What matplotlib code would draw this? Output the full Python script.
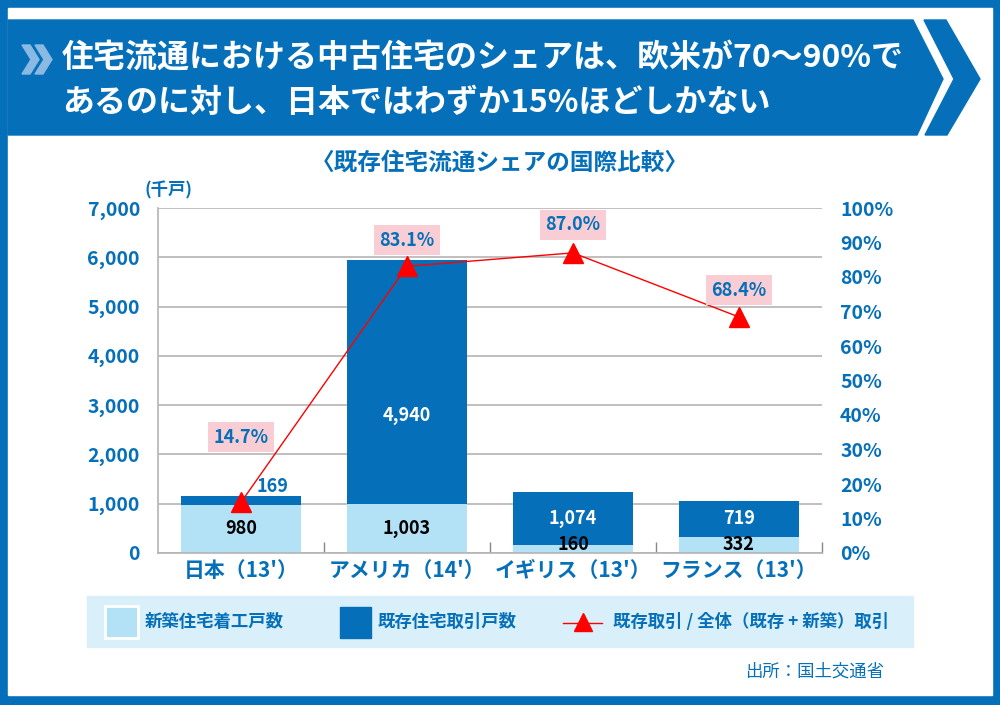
import matplotlib.pyplot as plt
from matplotlib.patches import Rectangle, Polygon
import numpy as np

plt.rcParams['font.family'] = ['Noto Sans CJK JP', 'DejaVu Sans']

# data (千戸 / %)
countries = ["日本（13'）", "アメリカ（14'）", "イギリス（13'）", "フランス（13'）"]
new_starts = [980, 1003, 160, 332]         # 新築住宅着工戸数
existing_sales = [169, 4940, 1074, 719]    # 既存住宅取引戸数
existing_share = [14.7, 83.1, 87.0, 68.4]  # 既存取引 / 全体取引
left_ticks = [0, 1000, 2000, 3000, 4000, 5000, 6000, 7000]
right_ticks = [0, 10, 20, 30, 40, 50, 60, 70, 80, 90, 100]

BLUE = '#0570b9'
LIGHT = '#b3e1f6'
GRID = '#b4b4b4'
RED = '#ff0000'
PINK = '#f8cdd3'

fig = plt.figure(figsize=(10, 7.05), dpi=100)

# background layer in pixel coordinates
bg = fig.add_axes([0, 0, 1, 1])
bg.set_xlim(0, 1000)
bg.set_ylim(705, 0)
bg.axis('off')

bg.add_patch(Rectangle((0, 0), 1000, 705, color=BLUE))
bg.add_patch(Rectangle((8, 8), 984, 687, color='white'))
bg.add_patch(Polygon([(8, 20), (913, 20), (943, 79), (917, 135), (8, 135)], color=BLUE))
bg.add_patch(Polygon([(924, 20), (946, 20), (980, 79), (947, 135), (925, 135), (954, 79)], color=BLUE))
for x0 in (22, 35):
    bg.add_patch(Polygon([(x0, 45), (x0 + 8, 45), (x0 + 17, 59.5), (x0 + 8, 74), (x0, 74), (x0 + 9, 59.5)],
                         color='#8ab9e2'))

bg.text(62, 58, '住宅流通における中古住宅のシェアは、欧米が70〜90%で', color='white',
        fontsize=23, fontweight='bold', va='center', ha='left')
bg.text(62, 103, 'あるのに対し、日本ではわずか15%ほどしかない', color='white',
        fontsize=23, fontweight='bold', va='center', ha='left')

bg.text(500, 163, '〈既存住宅流通シェアの国際比較〉', color=BLUE, fontsize=17,
        fontweight='bold', ha='center', va='center')
bg.text(145, 190, '(千戸)', color=BLUE, fontsize=12.5, fontweight='bold', ha='left', va='center')

# legend box
bg.add_patch(Rectangle((87, 596), 826, 51, color='#d9f0fa'))
bg.add_patch(Rectangle((105, 606), 33, 32, facecolor=LIGHT, edgecolor='white', linewidth=2))
bg.text(145, 622, '新築住宅着工戸数', color=BLUE, fontsize=12.5, fontweight='bold', va='center')
bg.add_patch(Rectangle((340, 607), 31, 31, color=BLUE))
bg.text(378, 622, '既存住宅取引戸数', color=BLUE, fontsize=12.5, fontweight='bold', va='center')
bg.plot([563, 602], [623, 623], color=RED, lw=1)
bg.plot([582.5], [622], marker='^', color=RED, markersize=13)
bg.text(613, 622, '既存取引 / 全体（既存 + 新築）取引', color=BLUE, fontsize=12.5,
        fontweight='bold', va='center')

bg.text(884, 672, '出所：国土交通省', color=BLUE, fontsize=12.5, ha='right', va='center')

# main chart
ax = fig.add_axes([0.158, 1 - 553 / 705, 0.664, 345 / 705])
ax.set_facecolor('none')
x = np.arange(len(countries))
w = 0.72
ax.bar(x, new_starts, w, color=LIGHT, zorder=2)
ax.bar(x, existing_sales, w, bottom=new_starts, color=BLUE, zorder=2)

ax.set_xlim(-0.5, 3.5)
ax.set_ylim(0, 7000)
ax.set_yticks(left_ticks)
ax.set_yticklabels([f'{v:,}' for v in left_ticks])
ax.grid(axis='y', color=GRID, linewidth=1.2, zorder=0)
ax.set_axisbelow(True)
for s in ('top', 'right'):
    ax.spines[s].set_visible(False)
for s in ('left', 'bottom'):
    ax.spines[s].set_color(GRID)
    ax.spines[s].set_linewidth(1.2)
ax.tick_params(axis='y', length=0, pad=13, labelsize=14, labelcolor=BLUE)
ax.set_xticks(x)
ax.set_xticklabels(countries)
ax.tick_params(axis='x', length=0, pad=5, labelsize=15, labelcolor=BLUE)
ax.set_xticks([0.5, 1.5, 2.5, 3.5], minor=True)
ax.tick_params(axis='x', which='minor', direction='in', length=8, color='#888888', width=1)
for lab in ax.get_xticklabels() + ax.get_yticklabels():
    lab.set_fontweight('bold')

# value labels inside / beside the bars
new_lbl_y = [490, 501, 180, 166]
for i, v in enumerate(new_starts):
    ax.text(x[i], new_lbl_y[i], f'{v:,}', ha='center', va='center', fontsize=13,
            fontweight='bold', color='black', zorder=4)
exist_lbl = [(0.19, 1340, BLUE), (0, 2780, 'white'), (0, 697, 'white'), (0, 691, 'white')]
for i, v in enumerate(existing_sales):
    dx, yy, c = exist_lbl[i]
    ax.text(x[i] + dx, yy, f'{v:,}', ha='center', va='center', fontsize=13,
            fontweight='bold', color=c, zorder=4)

# share line on secondary axis
ax2 = ax.twinx()
ax2.set_ylim(0, 100)
ax2.set_yticks(right_ticks)
ax2.set_yticklabels([f'{v}%' for v in right_ticks])
ax2.tick_params(axis='y', length=0, pad=13, labelsize=14, labelcolor=BLUE)
for lab in ax2.get_yticklabels():
    lab.set_fontweight('bold')
for s in ax2.spines.values():
    s.set_visible(False)
ax2.plot(x, existing_share, color=RED, lw=1, marker='^', markersize=14, zorder=3)

lift = [65, 26, 28, 27]
for i, v in enumerate(existing_share):
    ax2.annotate(f'{v:.1f}%', (x[i], v), xytext=(0, lift[i]), textcoords='offset pixels',
                 ha='center', va='center', fontsize=13, fontweight='bold', color=BLUE,
                 bbox=dict(boxstyle='square,pad=0.3', facecolor=PINK, edgecolor='none'))

fig.savefig('out.png', dpi=100)
